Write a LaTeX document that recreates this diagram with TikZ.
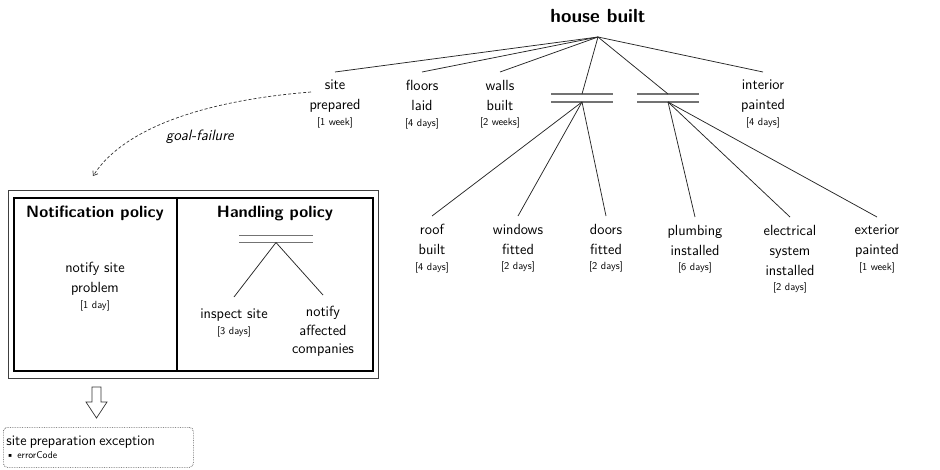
\documentclass[tikz,border=0pt]{standalone}
\usetikzlibrary{arrows.meta}
\begin{document}
\begin{tikzpicture}[x=1pt,y=-1pt,
  every node/.style={font=\sffamily},
  task/.style={align=center, inner xsep=1pt, inner ysep=8pt, anchor=north,
    font=\sffamily\fontsize{14.7}{20}\selectfont},
  edge/.style={draw=black!85, line width=0.75pt},
  barline/.style={draw=black!55, line width=1.4pt},
  bar/.style={minimum width=62pt, minimum height=8pt, inner sep=0pt, outer sep=0pt},
  heading/.style={font=\sffamily\bfseries\fontsize{16.4}{19}\selectfont}]
\newcommand{\dur}[1]{\\[-4.5pt]{\fontsize{10.4}{12}\selectfont #1}}
\useasboundingbox (0,0) rectangle (940,469);

% ---- goal tree ----
\node[font=\sffamily\bfseries\fontsize{19}{21}\selectfont] (house) at (598,16) {house built};
\coordinate (apex) at (598,37);

\node[task] (site)  at (335,72) {site\\prepared\dur{[1 week]}};
\node[task] (floor) at (422,72) {floors\\laid\dur{[4 days]}};
\node[task] (walls) at (500,72) {walls\\built\dur{[2 weeks]}};
\node[task] (inter) at (763,72) {interior\\painted\dur{[4 days]}};

\node[bar] (barA) at (582,98) {};
\node[bar] (barB) at (668,98) {};
\foreach \b in {barA,barB}{
  \draw[barline] (\b.north west) -- (\b.north east);
  \draw[barline] (\b.south west) -- (\b.south east);
}

\foreach \c in {site,floor,walls,inter}{ \draw[edge] (apex) -- (\c.north); }
\draw[edge] (apex) -- (barA.north);
\draw[edge] (apex) -- (barB.north);

\node[task] (roof)  at (432,216) {roof\\built\dur{[4 days]}};
\node[task] (wind)  at (518,216) {windows\\fitted\dur{[2 days]}};
\node[task] (doors) at (606,216) {doors\\fitted\dur{[2 days]}};
\node[task] (plumb) at (695,217) {plumbing\\installed\dur{[6 days]}};
\node[task] (elec)  at (790,217) {electrical\\system\\installed\dur{[2 days]}};
\node[task] (ext)   at (877,217) {exterior\\painted\dur{[1 week]}};

\foreach \c in {roof,wind,doors}{ \draw[edge] (barA.south) -- (\c.north); }
\foreach \c in {plumb,elec,ext}{ \draw[edge] (barB.south) -- (\c.north); }

% ---- failure handling ----
\coordinate (failstart) at (311,92);
\coordinate (failend) at (93,176);
\draw[densely dashed, black!80, line width=0.7pt, -{Straight Barb[length=4pt,width=6pt]}]
  (failstart) .. controls (210,100) and (125,126) .. (failend);
\node[font=\sffamily\itshape\fontsize{15}{17}\selectfont] (gf) at (200,137) {goal-failure};

\draw[black!75, line width=0.8pt] (8,190) rectangle (378,378);
\draw[black, line width=1.1pt] (14,198) coordinate (inTL) rectangle (373,371) coordinate (inBR);
\draw[black, line width=1.1pt] (177,198) -- (177,371);

\node[heading] (notif) at (95,213) {Notification policy};
\node[heading] (handl) at (275,213) {Handling policy};

\node[task] (nsp) at (95,254) {notify site\\problem\dur{[1 day]}};

\node[bar, minimum width=74pt, minimum height=7pt] (barC) at (276,239) {};
\draw[barline] (barC.north west) -- (barC.north east);
\draw[barline] (barC.south west) -- (barC.south east);

\node[task, inner ysep=12pt] (insp) at (234,297) {inspect site\dur{[3 days]}};
\node[task, inner ysep=11pt, font=\sffamily\fontsize{14.7}{18.5}\selectfont] (naff) at (323,295) {notify\\affected\\companies};
\draw[edge] (barC.south) -- (insp.north);
\draw[edge] (barC.south) -- (naff.north);

% hollow arrow to the exception
\draw[black!80, line width=0.7pt] (92,387) coordinate (arrT) -- (92,402) -- (86,402) -- (96.5,418) coordinate (arrTip)
  -- (107,402) -- (101,402) -- (101,387) -- cycle;

\node[draw=black!70, densely dotted, rounded corners=4pt, line width=0.7pt,
  minimum width=190pt, minimum height=40pt, align=left, anchor=north west,
  inner sep=3pt, text width=184pt] (exc) at (3,427)
  {\fontsize{14.5}{15}\selectfont site preparation exception\\[1.5pt]
   \fontsize{9.8}{11}\selectfont\textbullet\ errorCode};
\end{tikzpicture}
\end{document}
